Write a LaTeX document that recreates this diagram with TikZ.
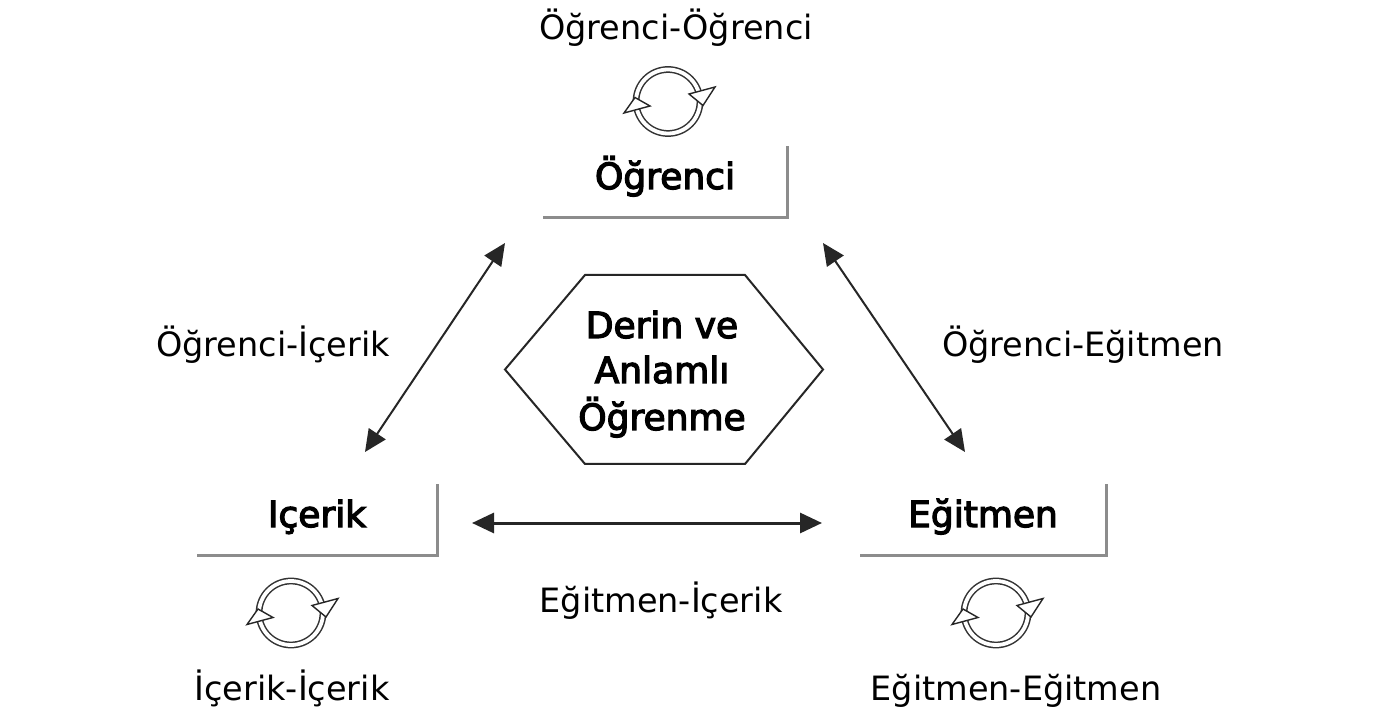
\documentclass[tikz,border=0pt]{standalone}
\usepackage{fontspec}
\setmainfont{DejaVu Sans}
\newfontfamily\semibf[FakeBold=3.5]{DejaVu Sans}
\usetikzlibrary{arrows.meta}
\begin{document}
\begin{tikzpicture}[x=1pt,y=-1pt,
  lbl/.style={font=\fontsize{33.5}{40}\selectfont, anchor=base, inner sep=0pt},
  bl/.style={font=\semibf\fontsize{36}{40}\selectfont, inner sep=0pt},
  boxnode/.style={bl, text height=14pt, text depth=0pt, minimum height=71pt},
  boxedge/.style={draw=black!45, line width=3pt},
  hexline/.style={draw=black!85, line width=2pt, line join=miter},
  conn/.style={draw=black!85, line width=2pt,
    {Triangle[length=22pt,width=20pt]}-{Triangle[length=22pt,width=20pt]}},
  cycleicon/.pic={
    \draw[draw=black!80, line width=1.5pt, double=white, double distance=3.8pt] (0,0) circle[radius=32pt];
    \filldraw[fill=white, draw=black!85, line width=1.4pt] (-44,11.5) -- (-33,-4) -- (-18,4.5) -- cycle;
    \filldraw[fill=white, draw=black!85, line width=1.4pt] (21,-7.5) -- (47,-14.5) -- (35,4) -- cycle;
  }
]
\useasboundingbox[fill=white] (0,0) rectangle (1390,708);

% boxes
\node[boxnode, minimum width=244pt] (ogr) at (665,182) {Öğrenci};
\node[boxnode, minimum width=240pt] (ice) at (317,520) {Içerik};
\node[boxnode, minimum width=246pt] (egi) at (983,520) {Eğitmen};
\draw[boxedge] (ogr.north east) -- (ogr.south east) -- (ogr.south west);
\draw[boxedge] (ice.north east) -- (ice.south east) -- (ice.south west);
\draw[boxedge] (egi.north east) -- (egi.south east) -- (egi.south west);

% cycle icons
\pic at (668,101.5) {cycleicon};
\pic at (291,613) {cycleicon};
\pic at (996,613) {cycleicon};

% labels
\node[lbl] (loo) at (676,40) {Öğrenci-Öğrenci};
\node[lbl] (loi) at (273,357) {Öğrenci-İçerik};
\node[lbl] (loe) at (1083,357) {Öğrenci-Eğitmen};
\node[lbl] (lei) at (661,612) {Eğitmen-İçerik};
\node[lbl] (lii) at (292,700) {İçerik-İçerik};
\node[lbl] (lee) at (1016,700) {Eğitmen-Eğitmen};

% hexagon
\coordinate (hL) at (505,369.5);
\coordinate (hTL) at (585,275);
\coordinate (hTR) at (745,275);
\coordinate (hR) at (823,369.5);
\coordinate (hBR) at (745,464);
\coordinate (hBL) at (585,464);
\draw[hexline] (hL) -- (hTL) -- (hTR) -- (hR) -- (hBR) -- (hBL) -- cycle;
\node[bl, anchor=base] (h1) at (662,338) {Derin ve};
\node[bl, anchor=base] (h2) at (662,383) {Anlamlı};
\node[bl, anchor=base] (h3) at (662,430) {Öğrenme};

% connectors
\coordinate (a1) at (505,243);
\coordinate (a2) at (365,452);
\coordinate (a3) at (823,243);
\coordinate (a4) at (965,452);
\coordinate (a5) at (472,523);
\coordinate (a6) at (822,523);
\draw[conn] (a1) -- (a2);
\draw[conn] (a3) -- (a4);
\draw[conn, line width=3pt] (a5) -- (a6);
\end{tikzpicture}
\end{document}
